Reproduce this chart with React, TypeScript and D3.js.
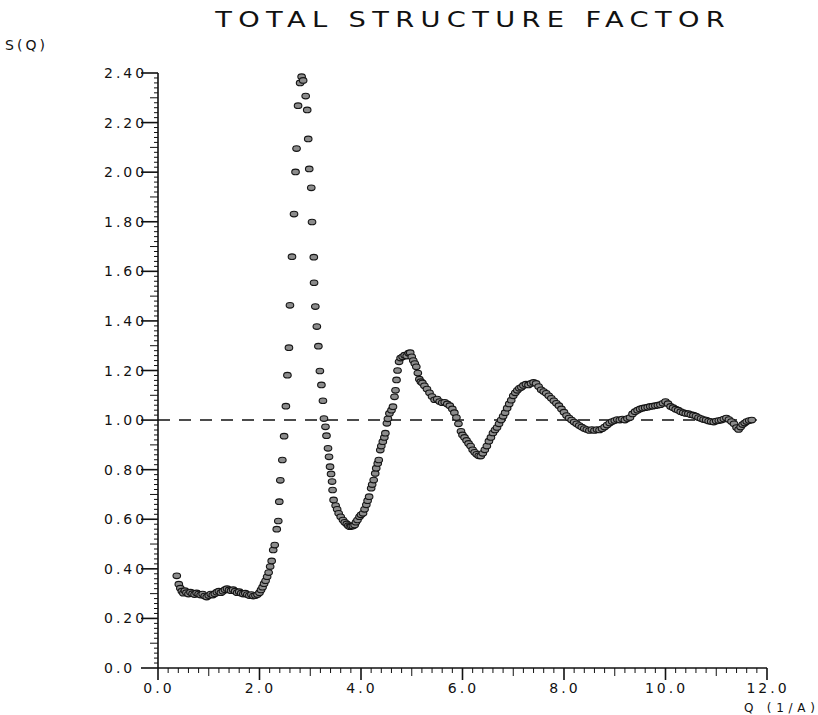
import React from "react";
import * as d3 from "d3";

// S(Q) readings, [Q, S]
const lowQ: [number, number][] = [
  [0.37, 0.372], [0.41, 0.338], [0.44, 0.322], [0.47, 0.31], [0.5, 0.302], [0.53, 0.312],
  [0.56, 0.304], [0.6, 0.298], [0.64, 0.306], [0.68, 0.3], [0.72, 0.296], [0.76, 0.303],
  [0.8, 0.298], [0.84, 0.294], [0.88, 0.298], [0.92, 0.29], [0.96, 0.286], [1.0, 0.292],
  [1.04, 0.298], [1.08, 0.294], [1.12, 0.3], [1.16, 0.306], [1.2, 0.31], [1.24, 0.304],
  [1.28, 0.31], [1.32, 0.316], [1.36, 0.32], [1.4, 0.315], [1.44, 0.312], [1.48, 0.316],
  [1.52, 0.31], [1.56, 0.304], [1.6, 0.308], [1.64, 0.302], [1.68, 0.298], [1.72, 0.302],
  [1.76, 0.296], [1.8, 0.292], [1.84, 0.296], [1.88, 0.29], [1.92, 0.292], [1.96, 0.296],
  [2.0, 0.304], [2.03, 0.315], [2.06, 0.326], [2.09, 0.34], [2.12, 0.352], [2.15, 0.368],
  [2.18, 0.385],
];

const mainPeak: [number, number][] = [
  [2.21, 0.409], [2.24, 0.432], [2.27, 0.476], [2.3, 0.496], [2.34, 0.56], [2.37, 0.593],
  [2.39, 0.671], [2.41, 0.757], [2.45, 0.839], [2.485, 0.935], [2.52, 1.056], [2.55, 1.181],
  [2.58, 1.292], [2.6, 1.463], [2.64, 1.659], [2.68, 1.831], [2.71, 2.001], [2.73, 2.095],
  [2.76, 2.268], [2.8, 2.36], [2.83, 2.385], [2.86, 2.37], [2.91, 2.307], [2.94, 2.251],
  [2.96, 2.134], [2.98, 2.013], [3.02, 1.937], [3.035, 1.799], [3.07, 1.657], [3.075, 1.554],
  [3.1, 1.458], [3.13, 1.377], [3.16, 1.298], [3.19, 1.198], [3.22, 1.142], [3.25, 1.078],
  [3.27, 1.006], [3.3, 0.973], [3.32, 0.937], [3.35, 0.886], [3.37, 0.852], [3.39, 0.812],
  [3.41, 0.783], [3.43, 0.752], [3.44, 0.718], [3.46, 0.678], [3.5, 0.655], [3.53, 0.64],
  [3.56, 0.624], [3.6, 0.61], [3.645, 0.597], [3.68, 0.588], [3.72, 0.581], [3.75, 0.574],
  [3.78, 0.57], [3.81, 0.572], [3.84, 0.573], [3.875, 0.577], [3.9, 0.588], [3.93, 0.597],
  [3.97, 0.61], [4.0, 0.618], [4.04, 0.624], [4.07, 0.64], [4.105, 0.658], [4.13, 0.675],
  [4.16, 0.691], [4.2, 0.725], [4.22, 0.74], [4.25, 0.758], [4.28, 0.785], [4.3, 0.806],
  [4.33, 0.825], [4.35, 0.839], [4.38, 0.879], [4.4, 0.895], [4.43, 0.913], [4.46, 0.93],
  [4.48, 0.947], [4.51, 0.987], [4.53, 1.005], [4.56, 1.027], [4.6, 1.04], [4.63, 1.054],
  [4.66, 1.094], [4.68, 1.12], [4.7, 1.162],
];

const oscillations: [number, number][] = [
  [4.72, 1.2], [4.75, 1.235], [4.78, 1.25], [4.82, 1.255], [4.86, 1.262], [4.9, 1.258],
  [4.94, 1.27], [4.97, 1.272], [5.0, 1.255], [5.03, 1.24], [5.06, 1.228], [5.09, 1.215],
  [5.12, 1.19], [5.15, 1.165], [5.18, 1.155], [5.21, 1.15], [5.25, 1.138], [5.3, 1.125],
  [5.35, 1.11], [5.4, 1.095], [5.45, 1.082], [5.5, 1.085], [5.55, 1.075], [5.6, 1.07],
  [5.65, 1.072], [5.7, 1.065], [5.75, 1.058], [5.8, 1.045], [5.84, 1.03], [5.88, 1.01],
  [5.92, 0.985], [5.97, 0.955], [6.0, 0.94], [6.04, 0.93], [6.08, 0.918], [6.12, 0.906],
  [6.16, 0.895], [6.2, 0.88], [6.24, 0.87], [6.28, 0.862], [6.32, 0.856], [6.36, 0.855],
  [6.4, 0.866], [6.44, 0.88], [6.48, 0.895], [6.52, 0.915], [6.56, 0.93], [6.6, 0.948],
  [6.64, 0.96], [6.68, 0.97], [6.72, 0.985], [6.76, 1.0], [6.8, 1.015], [6.84, 1.03],
  [6.88, 1.048], [6.92, 1.065], [6.96, 1.08], [7.0, 1.098], [7.04, 1.11], [7.08, 1.12],
  [7.12, 1.128], [7.16, 1.132], [7.2, 1.14], [7.25, 1.145], [7.3, 1.142], [7.35, 1.148],
  [7.4, 1.152], [7.45, 1.148], [7.5, 1.135], [7.55, 1.122], [7.6, 1.115], [7.65, 1.108],
  [7.7, 1.098], [7.75, 1.088], [7.8, 1.078], [7.85, 1.068], [7.9, 1.058], [7.95, 1.045],
  [8.0, 1.032], [8.05, 1.018], [8.1, 1.008], [8.15, 1.0], [8.2, 0.992], [8.25, 0.985],
  [8.3, 0.978], [8.35, 0.972], [8.4, 0.966], [8.45, 0.962], [8.5, 0.958], [8.55, 0.962],
  [8.6, 0.958], [8.65, 0.962], [8.7, 0.96], [8.75, 0.965], [8.8, 0.972], [8.85, 0.98],
  [8.9, 0.988], [8.95, 0.994], [9.0, 0.998], [9.05, 1.002], [9.1, 1.0], [9.15, 1.004],
  [9.2, 1.0], [9.25, 1.006], [9.3, 1.01], [9.35, 1.025], [9.4, 1.034], [9.45, 1.04],
  [9.5, 1.045], [9.55, 1.048], [9.6, 1.05], [9.65, 1.052], [9.7, 1.055], [9.75, 1.056],
  [9.8, 1.058], [9.85, 1.06], [9.9, 1.062], [9.95, 1.068], [10.0, 1.075], [10.05, 1.066],
  [10.1, 1.055], [10.15, 1.05], [10.2, 1.044], [10.25, 1.04], [10.3, 1.034], [10.35, 1.03],
  [10.4, 1.027], [10.45, 1.026], [10.5, 1.022], [10.55, 1.02], [10.6, 1.016], [10.65, 1.01],
  [10.7, 1.006], [10.75, 1.002], [10.8, 1.0], [10.85, 0.996], [10.9, 0.994], [10.95, 0.992],
  [11.0, 0.996], [11.05, 0.998], [11.1, 1.0], [11.15, 1.004], [11.2, 1.008], [11.25, 1.002],
  [11.3, 0.994], [11.35, 0.985], [11.4, 0.97], [11.44, 0.962], [11.48, 0.972], [11.52, 0.982],
  [11.56, 0.988], [11.6, 0.994], [11.65, 0.998], [11.7, 1.0],
];

const yTickValues = [0, 0.2, 0.4, 0.6, 0.8, 1.0, 1.2, 1.4, 1.6, 1.8, 2.0, 2.2, 2.4];
const yTickLabels = ["0.0", "0.20", "0.40", "0.60", "0.80", "1.00", "1.20", "1.40", "1.60", "1.80", "2.00", "2.20", "2.40"];
const xTickValues = [0, 2, 4, 6, 8, 10, 12];
const xTickLabels = ["0.0", "2.0", "4.0", "6.0", "8.0", "10.0", "12.0"];

const W = 818;
const H = 715;
const font = "'DejaVu Sans', sans-serif";
const ink = "#111";

export default function App() {
  const x = d3.scaleLinear().domain([0, 12]).range([158, 767]);
  const y = d3.scaleLinear().domain([0, 2.4]).range([668, 73]);

  const yMinor = d3.range(0, 241, 2).map((v) => v / 100);
  const xMinor = d3.range(0, 61).map((v) => v / 5);
  const points = [...lowQ, ...mainPeak, ...oscillations];

  return (
    <svg width={W} height={H} style={{ position: "absolute", left: 0, top: 0, background: "#fff" }}>
      {/* plotter lettering is wide, so stretch it sideways */}
      <g transform="translate(470,27) scale(1.3,1)">
        <text x={0} y={0} fontFamily={font} fontSize={21} textAnchor="middle" fill={ink}
          textLength={392} lengthAdjust="spacing">
          TOTAL STRUCTURE FACTOR
        </text>
      </g>
      <text x={5} y={50} fontFamily={font} fontSize={14} fill={ink} textLength={40} lengthAdjust="spacing">
        S(Q)
      </text>

      {/* y axis */}
      <line x1={x(0)} x2={x(0)} y1={y(2.4)} y2={y(0)} stroke={ink} strokeWidth={1.6} />
      {yMinor.map((v, i) => {
        const major = i % 10 === 0;
        const mid = i % 5 === 0;
        const len = major ? 17 : mid ? 8 : 4;
        return (
          <line key={`ym${i}`} x1={x(0) - len} x2={x(0)} y1={y(v)} y2={y(v)}
            stroke={ink} strokeWidth={major ? 1.6 : 1} />
        );
      })}
      {yTickValues.map((v, i) => (
        <text key={`yl${i}`} x={104} y={y(v) + 5} fontFamily={font} fontSize={14} fill={ink}
          letterSpacing={3}>
          {yTickLabels[i]}
        </text>
      ))}

      {/* x axis */}
      <line x1={x(0)} x2={x(12)} y1={y(0)} y2={y(0)} stroke={ink} strokeWidth={1.6} />
      {xMinor.map((v, i) => {
        const major = i % 10 === 0;
        const mid = i % 5 === 0;
        const len = major ? 12 : mid ? 8 : 5;
        return (
          <line key={`xm${i}`} x1={x(v)} x2={x(v)} y1={y(0)} y2={y(0) + len}
            stroke={ink} strokeWidth={major ? 1.6 : 1} />
        );
      })}
      {xTickValues.map((v, i) => (
        <text key={`xl${i}`} x={x(v) + 1} y={693} fontFamily={font} fontSize={14} fill={ink}
          textAnchor="middle" letterSpacing={3}>
          {xTickLabels[i]}
        </text>
      ))}
      <text x={744} y={712} fontFamily={font} fontSize={12} fill={ink} textLength={71} lengthAdjust="spacing">
        Q (1/A)
      </text>

      {/* S(Q) = 1 reference */}
      <line x1={x(0)} x2={x(11.8)} y1={y(1)} y2={y(1)} stroke={ink} strokeWidth={1.5}
        strokeDasharray="12 9" />

      {points.map(([q, s], i) => (
        <ellipse key={`p${i}`} cx={x(q)} cy={y(s)} rx={3.8} ry={2.8}
          fill="#8c8c8c" stroke="#151515" strokeWidth={1.1} />
      ))}
    </svg>
  );
}
